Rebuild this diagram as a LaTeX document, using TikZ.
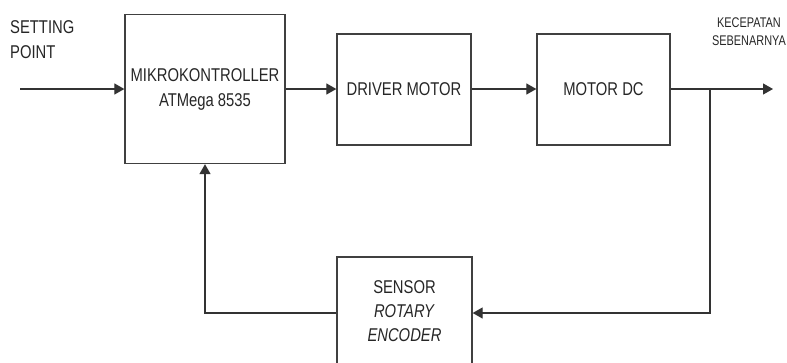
\documentclass[tikz,border=0pt]{standalone}
\usepackage{fontspec}
\setmainfont{Liberation Sans}
\newfontfamily\narrowfont[FakeStretch=0.8]{Liberation Sans}
\newfontfamily\snarrowfont[FakeStretch=0.78]{Liberation Sans}
\usetikzlibrary{arrows.meta}
\begin{document}
\begin{tikzpicture}[x=1pt,y=-1pt,
  blk/.style={draw=black!75,line width=1.3pt,inner sep=0pt,font=\narrowfont\fontsize{18.5}{24}\selectfont,align=center,text=black!85},
  txt/.style={inner sep=0pt,align=center,text=black!85},
  con/.style={draw=black!80,line width=1.2pt},
  arr/.style={con,-{Triangle[length=10pt,width=11pt]}},
  lbl/.style={inner sep=0pt,font=\narrowfont\fontsize{18.5}{25}\selectfont,align=left,text=black!85},
  slbl/.style={inner sep=0pt,font=\snarrowfont\fontsize{14}{18}\selectfont,align=center,text=black!85}]
\useasboundingbox (0,0) rectangle (787,362);
\clip (0,0) rectangle (787,362);
\node[blk,minimum width=160pt,minimum height=149pt] (mk) at (205,89) {};
\node[txt,font=\narrowfont\fontsize{18.5}{25}\selectfont] (mkt) at (205,89) {MIKROKONTROLLER\\ATMega 8535};
\node[blk,minimum width=134pt,minimum height=111pt] (dm) at (404,89.5) {DRIVER MOTOR};
\node[blk,minimum width=133pt,minimum height=111pt] (dc) at (603.5,89.5) {MOTOR DC};
\node[blk,minimum width=135pt,minimum height=120pt] (se) at (404.5,317) {};
\node[txt,font=\narrowfont\fontsize{18.5}{24}\selectfont] (set) at (404.5,311) {SENSOR\\\textit{ROTARY}\\\textit{ENCODER}};
\node[lbl,anchor=west] (sp) at (10,40) {SETTING\\POINT};
\node[slbl] (kc) at (749,32) {KECEPATAN\\SEBENARNYA};
\coordinate (in) at (20,89);
\coordinate (out) at (773,89);
\coordinate (br) at (710,89);
\coordinate (fb) at (710,313);
\coordinate (fl) at (205,313);
\draw[arr] (in) -- (in -| mk.west);
\draw[arr] (mk.east |- 0,89) -- (dm.west |- 0,89);
\draw[arr] (dm.east |- 0,89) -- (dc.west |- 0,89);
\draw[arr] (dc.east |- 0,89) -- (out);
\draw[arr] (br) -- (fb) -- (se.east |- fb);
\draw[arr] (se.west |- fl) -- (fl) -- (mk.south);
\end{tikzpicture}
\end{document}
